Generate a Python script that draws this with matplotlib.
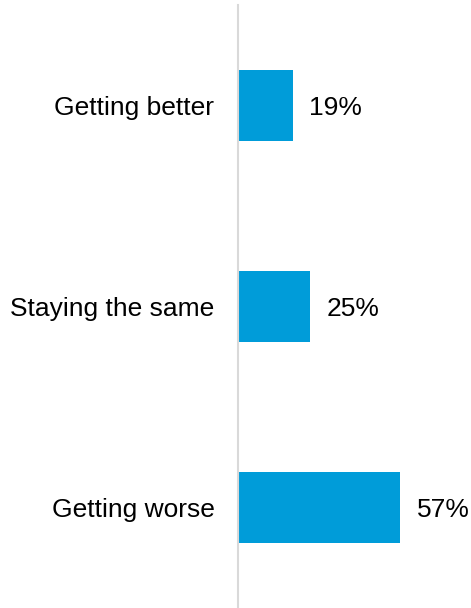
import matplotlib
matplotlib.use("Agg")
import matplotlib.pyplot as plt

categories = ["Getting better", "Staying the same", "Getting worse"]
values = [19, 25, 57]

plt.rcParams['font.family'] = ['Liberation Sans', 'DejaVu Sans']

fig = plt.figure(figsize=(4.71, 6.08), dpi=100)
ax = fig.add_axes([238 / 471, 0, 233 / 471, 603 / 608])

ypos = list(range(len(categories)))
bars = ax.barh(ypos, values, height=0.35, color="#009CD9", left=0.35)

ax.set_xlim(0, 82.3)
ax.set_ylim(len(categories) - 0.5, -0.5)

for spine in ["top", "right", "bottom"]:
    ax.spines[spine].set_visible(False)
ax.spines["left"].set_color("#D9D9D9")
ax.spines["left"].set_linewidth(1.5)

ax.set_xticks([])
ax.set_yticks(ypos)
ax.set_yticklabels(categories, fontsize=19)
ax.tick_params(axis="y", length=0, pad=17)

for y, v in zip(ypos, values):
    ax.annotate(f"{v}%", xy=(v + 0.35, y), xytext=(12, 0), textcoords="offset points",
                va="center_baseline", ha="left", fontsize=19)

fig.savefig("out.png", dpi=100)
